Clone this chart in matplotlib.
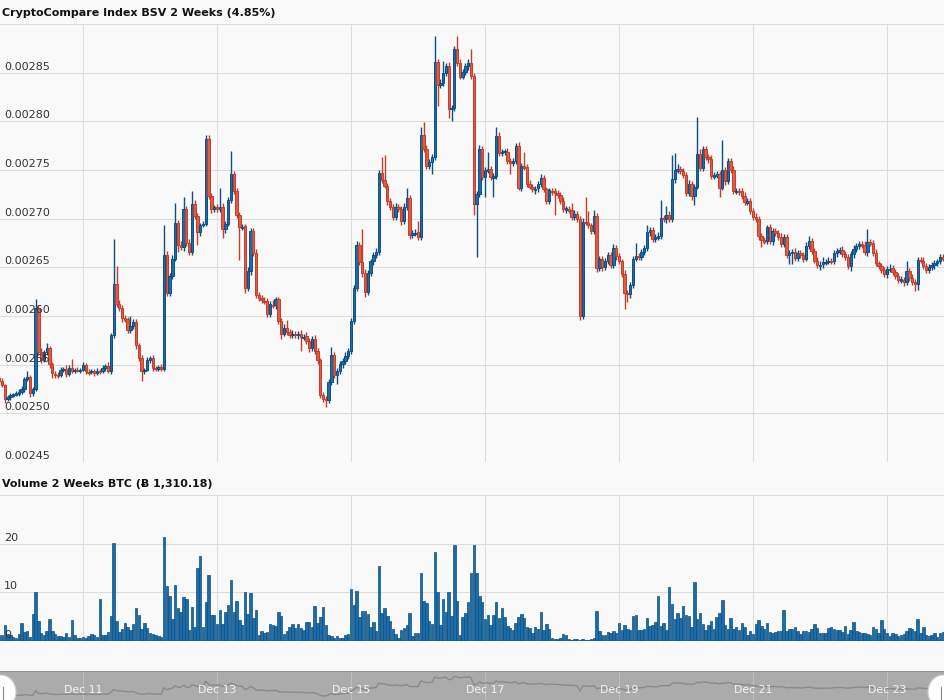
import matplotlib
matplotlib.use("Agg")
import matplotlib.pyplot as plt
from matplotlib.patches import Ellipse
from matplotlib.transforms import offset_copy

# ---------------- data (prices in units of 1e-5 BTC) ----------------
TITLE = "CryptoCompare Index BSV 2 Weeks (4.85%)"
VOL_TITLE = "Volume 2 Weeks BTC (\u0243 1,310.18)"
DATE_LABELS = ["Dec 11", "Dec 13", "Dec 15", "Dec 17", "Dec 19", "Dec 21", "Dec 23"]
DATE_HOURS = [0, 48, 96, 144, 192, 240, 288]      # hours after Dec 11 00:00
FIRST_HOUR = -30                                   # first candle: Dec 9 18:00
PRICE_TICKS = [245, 250, 255, 260, 265, 270, 275, 280, 285]
VOL_TICKS = [0, 10, 20]

OPEN0 = 253.6
CLOSE = [
    253.3, 252.9, 251.5, 251.7, 251.9, 252.0, 252.1, 252.2, 252.5, 253.5,
    253.7, 252.1, 252.5, 260.8, 256.3, 255.5, 256.3, 256.7, 255.1, 254.1,
    254.0, 253.9, 254.5, 254.6, 254.0, 254.7, 254.4, 254.5, 254.4, 254.5,
    255.0, 254.3, 254.2, 254.4, 254.1, 254.4, 254.3, 254.7, 254.9, 254.4,
    258.0, 263.3, 261.2, 260.8, 259.8, 259.7, 258.6, 259.0, 259.4, 257.0,
    255.7, 254.3, 254.5, 255.5, 255.7, 254.7, 254.6, 254.8, 254.6, 266.3,
    262.4, 264.1, 265.9, 269.6, 267.3, 267.1, 271.0, 267.5, 266.6, 271.5,
    270.3, 268.6, 269.4, 269.5, 278.2, 272.3, 271.0, 271.2, 271.0, 271.2,
    268.9, 269.5, 271.9, 274.6, 272.8, 270.4, 269.1, 269.2, 262.9, 264.6,
    268.7, 266.5, 262.2, 261.9, 261.6, 261.5, 260.2, 261.2, 261.1, 261.7,
    259.5, 258.2, 258.8, 258.4, 258.0, 258.2, 258.0, 258.2, 257.8, 257.9,
    257.4, 256.7, 257.6, 256.4, 255.5, 251.9, 251.5, 251.4, 253.2, 256.0,
    253.9, 254.3, 255.1, 255.4, 255.9, 256.4, 259.5, 262.9, 267.3, 265.5,
    264.4, 262.5, 264.4, 265.6, 266.3, 266.6, 274.7, 274.0, 273.4, 271.8,
    271.2, 270.2, 271.2, 271.0, 269.8, 271.2, 272.1, 268.3, 268.5, 268.6,
    268.1, 278.6, 277.2, 275.4, 275.8, 276.3, 286.1, 283.7, 283.9, 285.0,
    285.7, 281.3, 281.4, 287.4, 286.0, 284.6, 285.1, 285.7, 286.0, 284.7,
    271.5, 272.5, 277.2, 274.3, 275.0, 275.1, 274.3, 274.4, 278.5, 276.7,
    276.9, 276.9, 275.9, 275.7, 275.9, 277.5, 273.2, 275.4, 275.3, 273.6,
    273.3, 273.0, 273.1, 273.6, 274.2, 273.0, 271.8, 272.9, 272.8, 272.6,
    272.4, 271.8, 271.0, 271.0, 270.9, 270.2, 270.5, 270.0, 260.0, 269.7,
    269.6, 269.3, 268.7, 270.3, 264.9, 265.9, 265.0, 265.6, 266.3, 265.2,
    267.0, 266.2, 265.6, 264.3, 262.4, 262.3, 263.2, 265.9, 266.2, 266.1,
    266.6, 267.0, 268.6, 268.8, 267.9, 268.1, 268.2, 270.1, 270.0, 270.4,
    270.0, 274.1, 275.0, 275.1, 274.9, 274.5, 272.6, 273.6, 272.3, 273.3,
    276.6, 275.2, 277.2, 276.3, 276.1, 274.4, 274.5, 274.6, 273.2, 275.0,
    273.9, 275.9, 275.0, 272.8, 272.9, 272.8, 272.3, 271.7, 271.8, 270.8,
    270.2, 270.0, 268.2, 267.8, 267.7, 269.1, 267.7, 268.7, 268.5, 268.1,
    267.4, 268.1, 266.3, 266.5, 266.6, 266.0, 266.5, 266.3, 265.9, 267.2,
    267.7, 266.7, 265.7, 265.2, 265.3, 265.5, 265.6, 265.7, 265.6, 266.5,
    266.7, 266.8, 266.4, 266.1, 265.1, 266.4, 266.9, 267.2, 267.4, 267.3,
    266.6, 267.6, 267.5, 266.5, 265.4, 265.1, 264.7, 264.3, 264.8, 264.9,
    264.5, 264.1, 263.7, 263.7, 263.5, 264.6, 263.9, 263.5, 263.3, 265.8,
    265.7, 265.1, 264.7, 265.0, 265.2, 265.4, 265.6, 266.1, 265.9,
]

# ordinary wick lengths above / below the body, in tenths of a unit
WICK_UP = [
    2, 3, 1, 2, 2, 1, 2, 3, 3, 2, 3, 2, 2, 3, 3, 4, 2, 3, 2, 2,
    3, 2, 3, 2, 4, 3, 3, 2, 3, 2, 3, 2, 3, 2, 2, 3, 2, 3, 2, 4,
    3, 3, 3, 4, 3, 3, 2, 3, 3, 3, 2, 3, 2, 3, 2, 3, 2, 2, 3, 3,
    4, 3, 4, 3, 3, 4, 3, 3, 4, 3, 4, 3, 2, 3, 4, 4, 3, 2, 3, 3,
    4, 3, 3, 3, 3, 4, 3, 3, 3, 4, 3, 3, 4, 3, 3, 4, 3, 3, 4, 3,
    3, 3, 4, 3, 3, 4, 3, 3, 4, 3, 3, 3, 3, 4, 3, 2, 3, 3, 3, 3,
    3, 4, 3, 3, 4, 3, 3, 3, 4, 3, 3, 4, 3, 3, 3, 4, 3, 3, 4, 3,
    3, 3, 4, 3, 3, 4, 3, 3, 3, 3, 3, 3, 3, 4, 3, 3, 3, 3, 4, 3,
    3, 4, 3, 3, 3, 4, 3, 3, 4, 3, 3, 3, 4, 3, 3, 4, 3, 3, 3, 4,
    3, 3, 4, 3, 3, 3, 4, 3, 3, 3, 4, 3, 3, 3, 4, 3, 3, 3, 3, 4,
    3, 3, 4, 3, 3, 3, 4, 3, 3, 4, 3, 3, 3, 4, 3, 3, 3, 4, 3, 3,
    4, 3, 3, 3, 4, 3, 3, 3, 4, 3, 3, 3, 4, 3, 3, 3, 4, 3, 3, 3,
    4, 3, 3, 4, 3, 3, 3, 4, 3, 3, 3, 4, 3, 3, 3, 4, 3, 3, 3, 4,
    3, 3, 3, 4, 3, 3, 3, 4, 3, 3, 3, 4, 3, 3, 3, 3, 4, 3, 3, 3,
    4, 3, 3, 3, 3, 4, 3, 3, 3, 4, 3, 3, 3, 4, 3, 3, 3, 4, 3, 3,
    3, 3, 4, 3, 3, 3, 4, 3, 3, 3, 4, 3, 3, 3, 4, 3, 3, 3, 3, 4,
    3, 3, 3, 4, 3, 3, 3, 4, 3, 3, 3, 4, 3, 3, 3, 4, 3, 3, 3,
]
WICK_DN = [
    3, 2, 3, 2, 3, 2, 2, 3, 2, 3, 2, 4, 3, 2, 3, 3, 2, 3, 4, 3,
    2, 3, 2, 3, 3, 2, 3, 3, 2, 3, 2, 3, 3, 2, 3, 2, 3, 2, 3, 3,
    4, 3, 3, 3, 4, 3, 3, 3, 3, 4, 3, 3, 3, 2, 3, 3, 2, 3, 3, 3,
    3, 3, 3, 3, 3, 3, 4, 3, 3, 3, 3, 3, 4, 3, 3, 3, 4, 3, 3, 3,
    3, 4, 3, 3, 3, 3, 3, 3, 3, 3, 4, 3, 3, 4, 3, 3, 3, 3, 3, 4,
    3, 3, 3, 4, 3, 3, 3, 4, 3, 3, 3, 4, 3, 3, 4, 3, 3, 3, 3, 3,
    3, 3, 3, 4, 3, 3, 3, 3, 3, 3, 4, 3, 3, 3, 4, 3, 3, 3, 3, 4,
    3, 3, 3, 3, 4, 3, 3, 4, 3, 3, 3, 3, 3, 3, 3, 3, 3, 4, 3, 3,
    3, 3, 4, 3, 3, 3, 3, 3, 4, 3, 3, 3, 3, 3, 3, 3, 3, 4, 3, 3,
    3, 4, 3, 3, 3, 3, 3, 4, 3, 3, 3, 3, 3, 4, 3, 3, 3, 3, 4, 3,
    3, 3, 3, 4, 3, 3, 3, 3, 4, 3, 3, 3, 3, 3, 3, 3, 4, 3, 3, 3,
    3, 4, 3, 3, 3, 3, 4, 3, 3, 3, 3, 3, 3, 4, 3, 3, 3, 3, 3, 4,
    3, 3, 4, 3, 3, 3, 3, 3, 4, 3, 3, 3, 3, 3, 4, 3, 3, 3, 3, 3,
    4, 3, 3, 3, 3, 4, 3, 3, 3, 3, 3, 3, 4, 3, 3, 3, 3, 4, 3, 3,
    3, 3, 3, 4, 3, 3, 3, 3, 4, 3, 3, 3, 3, 3, 3, 4, 3, 3, 3, 3,
    4, 3, 3, 3, 3, 3, 4, 3, 3, 3, 3, 4, 3, 3, 3, 3, 3, 3, 4, 3,
    3, 3, 3, 3, 4, 3, 3, 3, 3, 4, 3, 3, 3, 3, 3, 4, 3, 3, 3,
]
# notable wick tips (candle index -> price)
HIGH_PTS = {10: 254.3, 13: 261.7, 17: 257.2, 26: 255.6, 41: 267.9, 42: 265.1,
            44: 260.6, 47: 260.0, 59: 269.3, 63: 271.6, 66: 272.2, 69: 272.8,
            74: 278.6, 79: 273.2, 83: 277.0, 99: 262.0, 103: 259.6, 110: 258.4,
            119: 256.8, 130: 268.9, 137: 276.3, 138: 276.5, 146: 273.2,
            150: 269.8, 151: 279.4, 152: 279.9, 156: 288.8, 159: 286.2,
            163: 287.6, 164: 288.8, 169: 287.4, 175: 276.9, 178: 279.4,
            179: 278.7, 182: 276.3, 188: 276.8, 205: 271.6, 210: 272.2,
            211: 270.8, 213: 270.9, 228: 267.5, 232: 269.4, 237: 271.9,
            239: 271.3, 241: 276.5, 242: 276.7, 243: 275.6, 250: 280.4,
            251: 277.2, 259: 278.1, 290: 268.2, 295: 266.1, 307: 267.5,
            311: 268.9, 325: 265.7, 330: 266.0}
LOW_PTS = {2: 251.1, 19: 253.6, 20: 253.6, 51: 253.3, 60: 262.3, 64: 266.6,
           71: 267.3, 80: 268.0, 86: 265.8, 88: 262.4, 101: 257.6, 108: 256.4,
           116: 251.2, 117: 250.7, 121: 253.0, 131: 262.0, 155: 274.6,
           157: 281.6, 161: 280.3, 162: 280.0, 170: 270.4, 171: 266.1,
           174: 272.2, 177: 272.2, 183: 274.6, 192: 272.5, 199: 270.4,
           214: 264.5, 224: 260.7, 225: 261.4, 249: 271.4, 258: 272.2,
           273: 267.1, 283: 265.3, 284: 265.3, 294: 264.7, 305: 264.6,
           316: 264.5, 328: 262.6, 329: 262.7}

VOLUME = [
    1.2, 1.3, 3.2, 1.4, 1.2, 0.8, 0.6, 1.5, 3.6, 1.9, 2.1, 0.8, 5.5, 10.0, 4.1, 1.6, 1.2, 2.1, 4.5, 2.0,
    1.4, 1.0, 1.0, 0.9, 1.7, 0.9, 4.3, 1.3, 0.7, 0.6, 0.9, 0.6, 1.0, 1.5, 1.2, 0.9, 8.6, 1.2, 1.2, 1.8,
    5.2, 20.2, 4.1, 1.8, 2.4, 3.6, 2.9, 2.3, 3.5, 6.7, 5.4, 2.4, 3.6, 2.7, 1.6, 1.4, 1.2, 1.0, 0.9, 21.4,
    11.3, 9.3, 4.5, 11.5, 6.8, 6.0, 9.0, 8.7, 2.3, 6.9, 2.9, 15.0, 17.5, 2.9, 8.0, 13.5, 5.4, 5.4, 3.5, 6.4,
    3.5, 5.9, 7.4, 12.6, 5.9, 8.2, 4.3, 3.3, 10.0, 5.6, 9.9, 4.8, 6.4, 1.2, 2.1, 1.6, 1.9, 3.4, 3.2, 3.1,
    6.0, 5.2, 1.4, 2.1, 2.9, 3.5, 2.7, 3.5, 2.6, 2.2, 3.9, 3.9, 2.9, 7.1, 3.7, 4.9, 7.0, 3.3, 1.2, 1.0,
    0.6, 1.0, 0.7, 0.6, 1.2, 1.5, 10.7, 7.4, 10.2, 4.9, 6.1, 6.1, 5.5, 2.9, 4.0, 2.0, 15.4, 5.7, 6.8, 5.2,
    4.1, 2.5, 1.4, 0.6, 2.3, 2.6, 3.3, 5.7, 1.0, 1.6, 1.6, 13.9, 8.2, 7.8, 4.1, 3.4, 18.2, 10.0, 3.3, 8.6,
    6.0, 10.0, 5.2, 19.8, 8.2, 1.2, 4.9, 5.7, 8.0, 13.9, 19.8, 13.9, 9.3, 8.0, 4.5, 5.3, 3.3, 5.3, 8.0, 4.7,
    6.7, 4.9, 3.1, 2.6, 2.3, 3.7, 4.9, 5.5, 4.8, 2.9, 2.7, 1.6, 2.9, 2.5, 5.9, 2.2, 3.4, 2.5, 0.6, 0.4,
    0.4, 0.6, 1.4, 1.2, 0.4, 0.3, 0.5, 0.4, 0.3, 0.4, 0.2, 0.3, 0.5, 0.6, 6.1, 2.0, 1.2, 1.2, 1.8, 1.6,
    2.0, 1.6, 3.7, 2.2, 3.3, 2.5, 2.3, 5.2, 5.3, 2.3, 2.3, 2.4, 4.8, 3.1, 3.3, 3.9, 9.2, 3.1, 3.7, 2.3,
    11.1, 7.6, 4.5, 5.7, 4.7, 7.1, 5.3, 5.1, 2.9, 12.2, 4.5, 5.7, 3.5, 2.3, 3.3, 4.1, 2.5, 4.9, 5.7, 8.4,
    3.3, 2.5, 4.8, 2.5, 2.9, 2.3, 3.7, 2.8, 1.2, 2.0, 1.4, 3.4, 4.3, 3.0, 2.5, 3.7, 1.8, 1.6, 1.9, 2.0,
    2.0, 6.3, 2.0, 2.5, 2.5, 2.9, 2.0, 1.4, 2.0, 2.0, 1.8, 2.5, 3.4, 2.6, 1.6, 1.6, 1.6, 2.6, 2.9, 2.5,
    2.2, 2.2, 1.9, 3.1, 1.4, 2.3, 3.9, 2.0, 1.9, 1.6, 1.6, 1.4, 1.2, 2.9, 2.5, 1.6, 4.3, 2.5, 1.6, 1.0,
    1.6, 1.5, 1.0, 1.2, 1.4, 2.0, 2.7, 2.5, 2.0, 4.5, 1.6, 2.9, 1.2, 1.0, 1.2, 1.6, 0.8, 1.6, 1.8,
]

# ---------------- style ----------------
BG = "#f9f9f9"
GRID = "#dcdcdc"
BLUE, BLUE_EDGE = "#1b6ca8", "#0d4f80"
RED, RED_EDGE = "#e05a44", "#c23e2a"
SCALE = 1e-5
W, H = 944, 700
PX_PER_HOUR = 134 / 48.0
X0_PX = 83.0
XLIM = (-X0_PX / PX_PER_HOUR, (W - X0_PX) / PX_PER_HOUR)

fig = plt.figure(figsize=(W / 100, H / 100), dpi=100, facecolor=BG)


def fig_rect(top, bottom):
    return [0, (H - bottom) / H, 1, (bottom - top) / H]


ax_p = fig.add_axes(fig_rect(24, 462))
ax_v = fig.add_axes(fig_rect(495, 641))
ax_n = fig.add_axes(fig_rect(671, 700))

for ax in (ax_p, ax_v, ax_n):
    ax.set_facecolor(BG)
    ax.set_xlim(*XLIM)
    for s in ax.spines.values():
        s.set_visible(False)
    ax.set_xticks([])
    ax.set_yticks([])

# grid lines
px = 0.72
for h in DATE_HOURS:
    ax_p.axvline(h, color=GRID, lw=px, zorder=0)
    ax_v.axvline(h, color=GRID, lw=px, zorder=0)
    ax_n.axvline(h, color="#bdbdbd", lw=px, zorder=1)
for v in PRICE_TICKS + [290]:
    ax_p.axhline(v * SCALE, color=GRID, lw=px, zorder=0)
for v in VOL_TICKS + [30]:
    ax_v.axhline(v, color=GRID, lw=px, zorder=0)

ax_p.set_ylim(245 * SCALE, 290 * SCALE)
ax_v.set_ylim(0, 30)

# ---------------- candles ----------------
n = len(CLOSE)
hours = [FIRST_HOUR + i for i in range(n)]
opens = [OPEN0] + CLOSE[:-1]
for i in range(n):
    o, c = opens[i], CLOSE[i]
    top, bot = max(o, c), min(o, c)
    hi = max(top + WICK_UP[i] / 10.0, HIGH_PTS.get(i, 0))
    lo = min(bot - WICK_DN[i] / 10.0, LOW_PTS.get(i, 1e9))
    up = c >= o
    col, edge = (BLUE, BLUE_EDGE) if up else (RED, RED_EDGE)
    ax_p.vlines(hours[i], lo * SCALE, hi * SCALE, color=edge, lw=1.0, zorder=2)
    body = max(top - bot, 0.15)
    ax_p.bar(hours[i], body * SCALE, bottom=(bot if top - bot >= 0.15 else bot - 0.075) * SCALE,
             width=0.85, color=col, edgecolor=edge, linewidth=0.7, zorder=3)

# ---------------- volume ----------------
ax_v.bar(hours, VOLUME, width=0.88, color=BLUE, edgecolor=BLUE_EDGE, linewidth=0.5, zorder=2)
ax_v.axhline(0, color=BLUE_EDGE, lw=1.0, zorder=3)

# ---------------- navigator ----------------
ax_n.set_facecolor("#ababab")
ax_n.plot(hours, CLOSE, color="#8a8a8a", lw=1.0, zorder=2)
ax_n.set_ylim(243.9, 296.9)
ax_n.axhline(296.9, color="#8f8f8f", lw=1.2, zorder=3)

# ---------------- texts ----------------
tick_fs = 7.3
lab_off_p = offset_copy(ax_p.get_yaxis_transform(), fig=fig, x=4, y=6, units="dots")
tick_texts = []
for v in PRICE_TICKS:
    t = ax_p.text(0, v * SCALE, f"{v * SCALE:.5f}", transform=lab_off_p, ha="left",
                  va="center", fontsize=tick_fs, color="#333333", zorder=10)
    tick_texts.append(t)
lab_off_v = offset_copy(ax_v.get_yaxis_transform(), fig=fig, x=4, y=6, units="dots")
for v in VOL_TICKS:
    t = ax_v.text(0, v, f"{v}", transform=lab_off_v, ha="left", va="center",
                  fontsize=tick_fs, color="#333333", zorder=10)
    tick_texts.append(t)

date_texts = []
for h, lab in zip(DATE_HOURS, DATE_LABELS):
    t = ax_n.text(h, 0.34, lab, transform=ax_n.get_xaxis_transform(), ha="center",
                  va="center", fontsize=7.3, color="#f4f4f4", zorder=5)
    date_texts.append(t)

title = fig.text(2 / W, 1 - 13 / H, TITLE, ha="left", va="center", fontsize=8.5,
                 fontweight="bold", color="#111111")
vtitle = fig.text(2 / W, 1 - 484 / H, VOL_TITLE, ha="left", va="center", fontsize=8.5,
                  fontweight="bold", color="#111111")

# fit text widths to the reference
fig.canvas.draw()
r = fig.canvas.get_renderer()


def fit(texts, target):
    w = texts[0].get_window_extent(r).width
    k = target / w
    for t in texts:
        t.set_fontsize(t.get_fontsize() * k)


fit([title], 275)
fit([vtitle], 210)
fit(tick_texts, 45.5)
fit(date_texts, 38)

# navigator handles
for cx in (1, W - 1):
    e = Ellipse((cx, 8), 30, 34, transform=None, facecolor="white",
                edgecolor="#cccccc", lw=0.8, zorder=20)
    fig.patches.append(e)
for lx in (3, W - 3):
    fig.add_artist(plt.Line2D([lx, lx], [0, 13], transform=None, color="#888888", lw=0.8, zorder=21))

fig.savefig("out.png", dpi=100, facecolor=BG)
